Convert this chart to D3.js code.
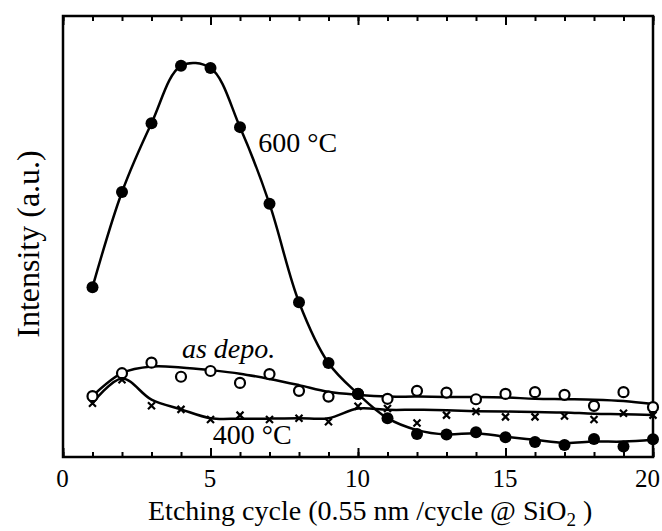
<!DOCTYPE html>
<html>
<head>
<meta charset="utf-8">
<script src="https://cdn.jsdelivr.net/npm/d3@7"></script>
<style>
  body { margin: 0; background: #fff; }
  text { font-family: "Liberation Serif", "Times New Roman", serif; fill: #000; }
</style>
</head>
<body>
<div class="chart"></div>
<script>
// etching cycle number
const cycles = [1, 2, 3, 4, 5, 6, 7, 8, 9, 10, 11, 12, 13, 14, 15, 16, 17, 18, 19, 20];

// measured points (arbitrary units)
const t600 = [38.5, 60.1, 75.7, 88.7, 88.2, 74.8, 57.4, 35.1, 21.3, 14.3, 8.8, 5.2, 5.1, 5.6, 4.5, 3.4, 2.7, 4.1, 2.4, 4.0];
const asDepo = [13.8, 19.0, 21.4, 18.2, 19.5, 16.8, 18.8, 15.0, 13.7, 14.3, 13.2, 15.0, 14.6, 13.1, 14.3, 14.7, 14.1, 11.6, 14.7, 11.3];
const t400 = [12.2, 17.5, 11.6, 10.8, 8.5, 9.5, 8.5, 8.8, 8.0, 11.5, 11.0, 7.7, 9.5, 10.3, 9.1, 9.1, 9.3, 8.5, 9.9, 9.5];

// smoothed guide lines drawn through the points
const t600Fit = [38.5, 60.1, 75.7, 88.7, 88.2, 74.8, 57.4, 35.1, 21.3, 14.3, 8.8, 6.1, 5.1, 5.4, 4.6, 3.9, 3.2, 3.5, 3.5, 3.9];
const asDepoFit = [13.8, 19.0, 20.5, 20.3, 19.7, 18.9, 17.7, 16.3, 14.8, 14.1, 13.7, 13.7, 13.6, 13.6, 13.5, 13.2, 13.1, 13.0, 12.7, 12.0];
const t400Fit = [12.2, 17.8, 13.0, 10.8, 8.8, 8.7, 8.7, 8.8, 8.8, 11.0, 10.7, 10.7, 10.6, 10.4, 10.3, 10.2, 10.1, 9.8, 9.7, 9.5];

const majorTicks = [0, 5, 10, 15, 20];
const minorTicks = [0, 1, 2, 3, 4, 5, 6, 7, 8, 9, 10, 11, 12, 13, 14, 15, 16, 17, 18, 19, 20];

let margin = {top: 16, right: 9, bottom: 74, left: 63},
    width = 662 - margin.left - margin.right,
    height = 531 - margin.top - margin.bottom;

let svg = d3.select(".chart")
    .append("svg")
    .attr("width", width + margin.left + margin.right)
    .attr("height", height + margin.top + margin.bottom)
    .append("g")
    .attr("transform", "translate(" + margin.left + "," + margin.top + ")");

let x = d3.scaleLinear().domain([0, 20]).range([0, width]);
let y = d3.scaleLinear().domain([0, 100]).range([height, 0]);

// frame
svg.append("rect")
    .attr("x", 0).attr("y", 0)
    .attr("width", width).attr("height", height)
    .attr("fill", "none")
    .attr("stroke", "#000")
    .attr("stroke-width", 2.5);

// ticks (inward, bottom + top)
function tickAxis(axisFn, ticks, size, labels, ty) {
    let g = svg.append("g")
        .attr("transform", "translate(0," + ty + ")")
        .call(axisFn(x).tickValues(ticks).tickSize(size)
            .tickFormat(labels ? d3.format("d") : ""));
    g.select(".domain").remove();
    g.selectAll("line").attr("stroke", "#000").attr("stroke-width", 2);
    return g;
}
tickAxis(d3.axisBottom, minorTicks, -5, false, height);
let xb = tickAxis(d3.axisBottom, majorTicks, -9, true, height);
xb.selectAll("text")
    .attr("font-size", 25)
    .attr("font-family", "Liberation Serif, serif")
    .attr("y", 12)
    .attr("dx", d => d === 20 ? -6 : -1);
tickAxis(d3.axisTop, minorTicks, -5, false, 0);
tickAxis(d3.axisTop, majorTicks, -9, false, 0);

// lines
let line = d3.line()
    .x((d, i) => x(cycles[i]))
    .y(d => y(d))
    .curve(d3.curveCatmullRom.alpha(0.5));

[t600Fit, asDepoFit, t400Fit].forEach(s => {
    svg.append("path")
        .datum(s)
        .attr("d", line)
        .attr("fill", "none")
        .attr("stroke", "#000")
        .attr("stroke-width", 2.5);
});

// 400 °C crosses
svg.selectAll(".cross")
    .data(t400)
    .enter()
    .append("path")
    .attr("class", "cross")
    .attr("transform", (d, i) => "translate(" + x(cycles[i]) + "," + y(d) + ")")
    .attr("d", "M-3.5,-3.5L3.5,3.5M-3.5,3.5L3.5,-3.5")
    .attr("stroke", "#000")
    .attr("stroke-width", 2.2);

// as depo. open circles
svg.selectAll(".open")
    .data(asDepo)
    .enter()
    .append("circle")
    .attr("class", "open")
    .attr("cx", (d, i) => x(cycles[i]))
    .attr("cy", d => y(d))
    .attr("r", 5)
    .attr("fill", "#fff")
    .attr("stroke", "#000")
    .attr("stroke-width", 2.2);

// 600 °C filled circles
svg.selectAll(".filled")
    .data(t600)
    .enter()
    .append("circle")
    .attr("class", "filled")
    .attr("cx", (d, i) => x(cycles[i]))
    .attr("cy", d => y(d))
    .attr("r", 6)
    .attr("fill", "#000");

// series labels
const labelText = ["600 °C", "as depo.", "400 °C"];
const labelX = [6.62, 4.03, 5.08];
const labelY = [69.2, 22.4, 2.9];
const labelItalic = [false, true, false];
svg.selectAll(".lbl")
    .data(labelText)
    .enter()
    .append("text")
    .attr("class", "lbl")
    .attr("x", (d, i) => x(labelX[i]))
    .attr("y", (d, i) => y(labelY[i]))
    .attr("font-size", 28)
    .attr("font-style", (d, i) => labelItalic[i] ? "italic" : "normal")
    .text(d => d);

// axis titles
let xt = svg.append("text")
    .attr("x", 148 - margin.left)
    .attr("y", 520 - margin.top)
    .attr("font-size", 28);
xt.append("tspan").text("Etching cycle (0.55 nm /cycle @ SiO");
xt.append("tspan").attr("font-size", 19).attr("dy", 6).text("2");
xt.append("tspan").attr("dy", -6).text(" )");

svg.append("text")
    .attr("transform", "translate(" + (39 - margin.left) + "," + (244 - margin.top) + ") rotate(-90)")
    .attr("text-anchor", "middle")
    .attr("font-size", 32)
    .text("Intensity (a.u.)");
</script>
</body>
</html>
